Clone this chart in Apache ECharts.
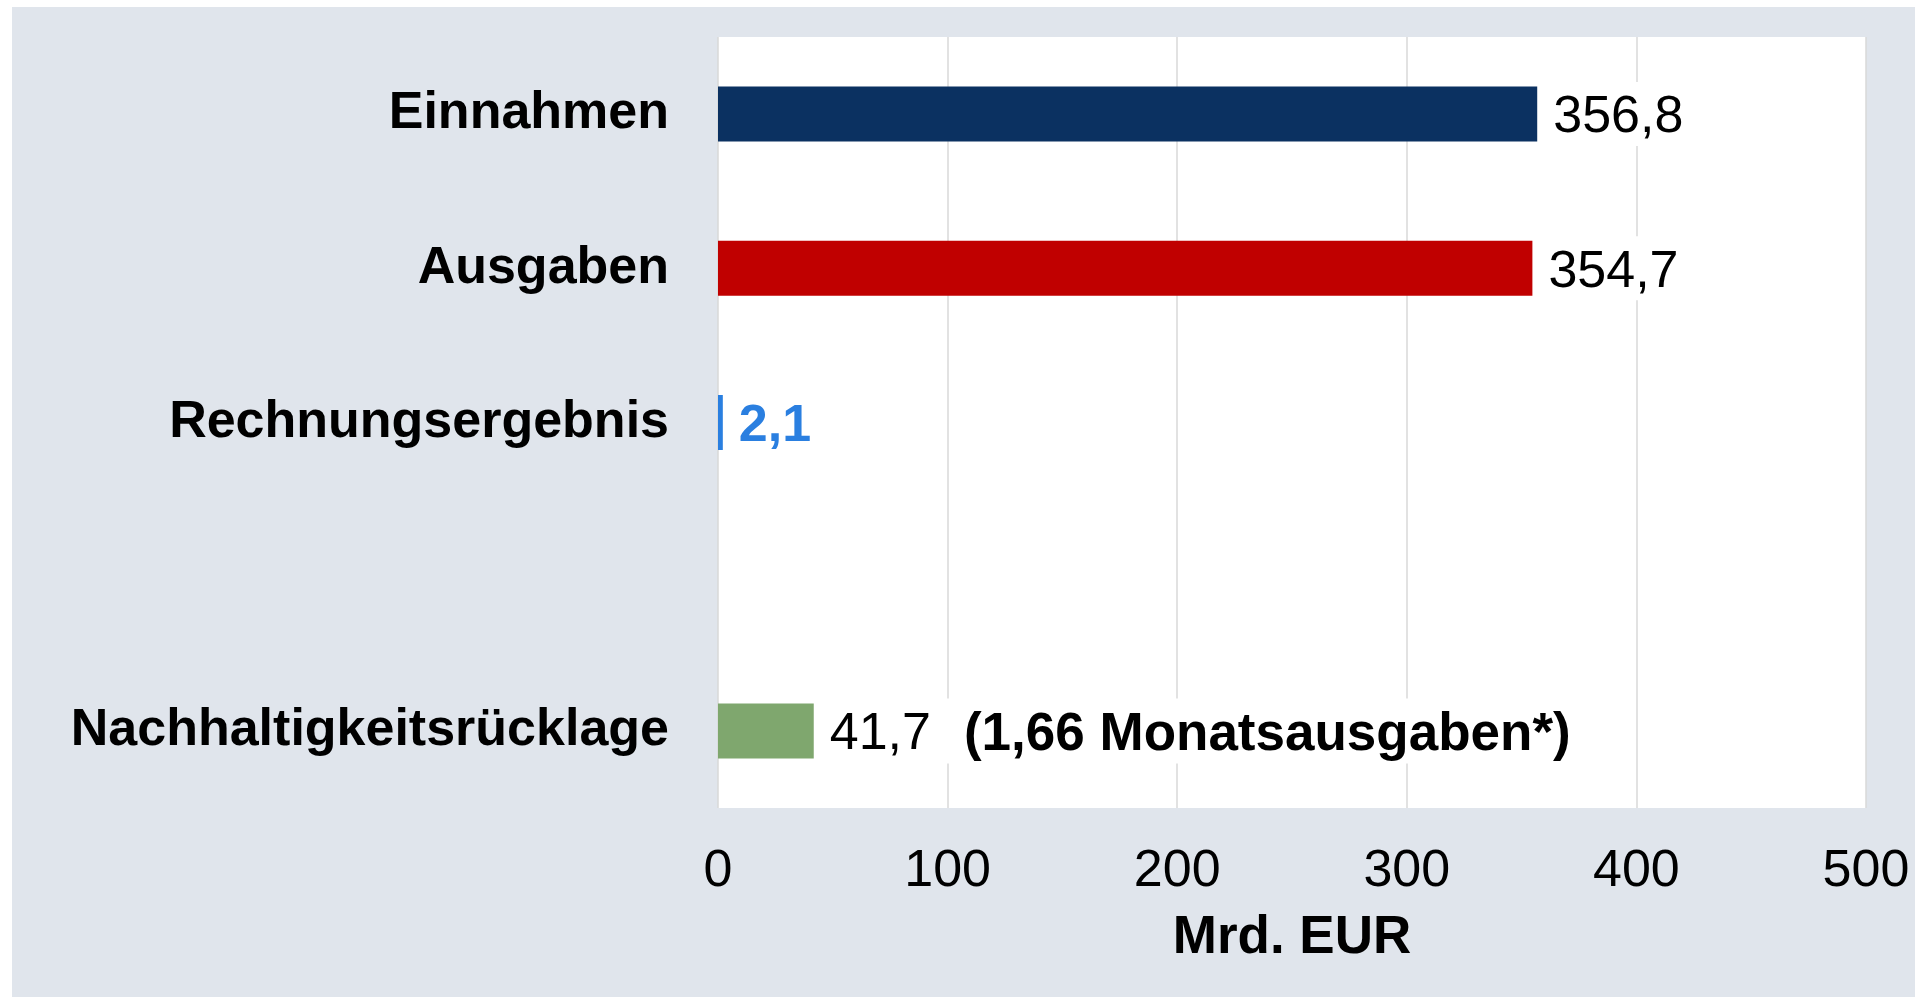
<!DOCTYPE html>
<html>
<head>
<meta charset="utf-8">
<script src="https://cdn.jsdelivr.net/npm/echarts@6/dist/echarts.min.js"></script>
<style>
  html, body { margin: 0; padding: 0; background: #fff; width: 1915px; height: 997px; overflow: hidden; }
  #chart { position: absolute; left: 12px; top: 7px; width: 1903px; height: 990px; }
</style>
</head>
<body>
<div id="chart"></div>
<script>
// Rechnungsergebnis der gesetzlichen Rentenversicherung, Mrd. EUR
const categories = ['Einnahmen', 'Ausgaben', 'Rechnungsergebnis', '', 'Nachhaltigkeitsrücklage']
const values = [356.8, 354.7, 2.1, '-', 41.7]
const notes = ['', '', '', '', '(1,66 Monatsausgaben*)']
const barColors = ['#0b3161', '#c00000', '#2a7fe0', '#ffffff', '#7fa76e']
const xTicks = [0, 100, 200, 300, 400, 500]
const axisName = 'Mrd. EUR'

const FONT = '"Liberation Sans", Arial, sans-serif'
const fmt = v => v.toFixed(1).replace('.', ',')

const chart = echarts.init(document.getElementById('chart'))

const barData = values.map((v, i) => {
  const item = { value: v, itemStyle: { color: barColors[i] } }
  if (i === 2) {
    // Rechnungsergebnis: blauer, fetter Wert
    item.label = { color: '#2a7fe0', fontWeight: 'bold' }
  }
  return item
})

chart.setOption({
  backgroundColor: '#e0e5ec',
  animation: false,
  grid: {
    left: 706, right: 49, top: 30, bottom: 189,
    show: true, backgroundColor: '#ffffff', borderWidth: 0
  },
  xAxis: {
    type: 'value',
    min: xTicks[0],
    max: xTicks[xTicks.length - 1],
    interval: xTicks[1] - xTicks[0],
    name: axisName,
    nameLocation: 'middle',
    nameGap: 104,
    nameTextStyle: { fontFamily: FONT, fontSize: 53, fontWeight: 'bold', color: '#000', verticalAlign: 'top' },
    axisLine: { show: false },
    axisTick: { show: false },
    axisLabel: { fontFamily: FONT, fontSize: 52, color: '#000', margin: 38 },
    splitLine: { lineStyle: { color: '#d9d9d9', width: 1.5 } }
  },
  yAxis: {
    type: 'category',
    inverse: true,
    data: categories,
    axisLine: { show: false },
    axisTick: { show: false },
    splitLine: { show: false },
    axisLabel: { fontFamily: FONT, fontSize: 52, fontWeight: 'bold', color: '#000', margin: 49 }
  },
  series: [{
    type: 'bar',
    data: barData,
    barWidth: 55,
    label: {
      show: true,
      position: 'right',
      distance: 8,
      backgroundColor: '#ffffff',
      padding: [10, 8, 2, 8],
      fontFamily: FONT,
      fontSize: 52,
      color: '#000',
      formatter: p => {
        const note = notes[p.dataIndex]
        return note ? '{v|' + fmt(p.value) + '}{n|' + note + '}' : fmt(p.value)
      },
      rich: {
        v: { fontFamily: FONT, fontSize: 52, color: '#000' },
        n: { fontFamily: FONT, fontSize: 53, fontWeight: 'bold', color: '#000', padding: [0, 0, 0, 33] }
      }
    }
  }]
})
</script>
</body>
</html>
